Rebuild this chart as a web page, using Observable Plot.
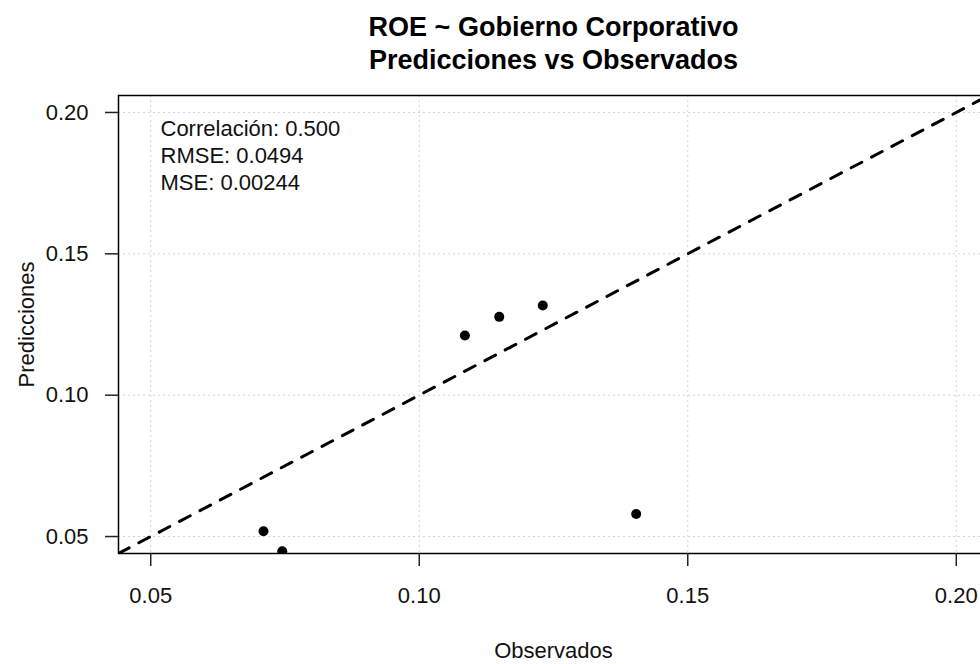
<!DOCTYPE html>
<html>
<head>
<meta charset="utf-8">
<script src="https://cdn.jsdelivr.net/npm/d3@7"></script>
<script src="https://cdn.jsdelivr.net/npm/@observablehq/plot@0.6"></script>
<style>
  html, body { margin: 0; padding: 0; background: #fff; overflow: hidden; }
  #chart svg { display: block; }
</style>
</head>
<body>
<div id="chart"></div>
<script>
// ---- data ----
const observados   = [0.0710, 0.0745, 0.1085, 0.1149, 0.1230, 0.1404];
const predicciones = [0.0519, 0.0448, 0.1211, 0.1277, 0.1317, 0.0580];
const axisLimits   = [0.05, 0.20];
const tickValues   = [0.05, 0.10, 0.15, 0.20];
const tickLabels   = ["0.05", "0.10", "0.15", "0.20"];
const titleLines   = ["ROE ~ Gobierno Corporativo", "Predicciones vs Observados"];
const statNames    = ["Correlación", "RMSE", "MSE"];
const statValues   = ["0.500", "0.0494", "0.00244"];
const xLabel = "Observados";
const yLabel = "Predicciones";

// R-style 4% axis extension
const pad = (axisLimits[1] - axisLimits[0]) * 0.04;
const lim = [axisLimits[0] - pad, axisLimits[1] + pad];

const points = observados.map((o, i) => ({obs: o, pred: predicciones[i]}));
const statText = statNames.map((n, i) => `${n}: ${statValues[i]}`).join("\n");
const fmt = d => tickLabels[tickValues.indexOf(d)];

const font = "'Liberation Sans', Arial, sans-serif";

const chart = Plot.plot({
  width: 980,
  height: 664,
  marginLeft: 118,
  marginRight: -8,
  marginTop: 95,
  marginBottom: 111,
  style: {fontFamily: font, fontSize: "22px", color: "black", background: "white"},
  x: {domain: lim},
  y: {domain: lim},
  marks: [
    Plot.ruleX(tickValues, {stroke: "#d3d3d3", strokeWidth: 1, strokeDasharray: "2,3"}),
    Plot.ruleY(tickValues, {stroke: "#d3d3d3", strokeWidth: 1, strokeDasharray: "2,3"}),
    Plot.line(lim, {x: d => d, y: d => d, stroke: "black", strokeWidth: 3, strokeDasharray: "12,11", clip: true}),
    Plot.dot(points, {x: "obs", y: "pred", r: 5, fill: "black", stroke: null, clip: true}),
    Plot.frame({stroke: "black", strokeWidth: 1.5}),
    Plot.axisX(tickValues, {tickSize: 13, tickPadding: 21, tickFormat: fmt, fontSize: 22, stroke: "#222", strokeWidth: 1.5, label: null, fill: "#111"}),
    Plot.axisY(tickValues, {tickSize: 13, tickPadding: 17, tickFormat: fmt, fontSize: 22, stroke: "#222", strokeWidth: 1.5, label: null, fill: "#111"}),
    Plot.text([titleLines.join("\n")], {frameAnchor: "top", text: d => d, dy: -27, lineAnchor: "bottom", lineHeight: 1.22, fontSize: 27, fontWeight: "bold", fill: "black"}),
    Plot.text([statText], {frameAnchor: "top-left", text: d => d, dx: 42, dy: 21, lineAnchor: "top", textAnchor: "start", lineHeight: 1.227, fontSize: 22, fill: "#111"}),
    Plot.text([xLabel], {frameAnchor: "bottom", text: d => d, dy: 104, lineAnchor: "bottom", fontSize: 22, fill: "#111"}),
    Plot.text([yLabel], {frameAnchor: "left", text: d => d, dx: -85, rotate: -90, textAnchor: "middle", lineAnchor: "bottom", fontSize: 22, fill: "#111"})
  ]
});
document.getElementById("chart").appendChild(chart);
</script>
</body>
</html>
